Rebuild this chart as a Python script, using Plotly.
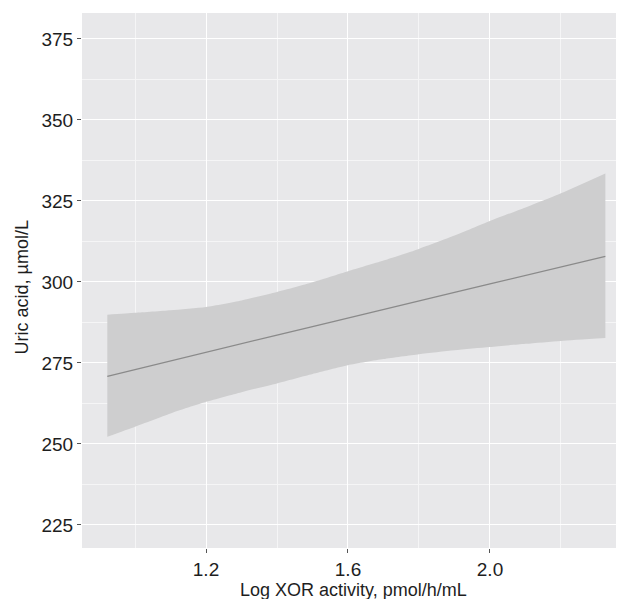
import plotly.graph_objects as go

# Data
x_vals = [0.922, 1.0, 1.1, 1.2, 1.3, 1.4, 1.5, 1.6, 1.7, 1.8, 1.9, 2.0, 2.1, 2.2, 2.325]
fit = [270.9, 273.0, 275.6, 278.3, 281.0, 283.6, 286.2, 288.9, 291.5, 294.1, 296.8, 299.4, 302.0, 304.7, 307.9]
upper = [289.9, 290.5, 291.3, 292.3, 294.3, 296.9, 299.9, 303.3, 306.6, 310.2, 314.3, 318.8, 323.0, 327.4, 333.5]
lower = [252.2, 255.3, 259.4, 263.0, 266.0, 268.7, 271.6, 274.3, 276.2, 277.7, 278.9, 279.9, 280.9, 281.8, 282.7]

x_ticks = [1.2, 1.6, 2.0]
x_tick_text = ["1.2", "1.6", "2.0"]
y_ticks = [225, 250, 275, 300, 325, 350, 375]
x_title = "Log XOR activity, pmol/h/mL"
y_title = "Uric acid, µmol/L"

fig = go.Figure()
fig.add_trace(go.Scatter(x=x_vals, y=lower, mode="lines",
                         line=dict(width=0, shape="spline", smoothing=0.6),
                         hoverinfo="skip", showlegend=False))
fig.add_trace(go.Scatter(x=x_vals, y=upper, mode="lines", fill="tonexty",
                         fillcolor="#CECECF",
                         line=dict(width=0, shape="spline", smoothing=0.6),
                         hoverinfo="skip", showlegend=False))
fig.add_trace(go.Scatter(x=x_vals, y=fit, mode="lines",
                         line=dict(color="#8A8A8A", width=1.3), showlegend=False))

tick_font = dict(family="Liberation Sans, Arial, sans-serif", size=19, color="#1E1E1E")
title_font = dict(family="Liberation Sans, Arial, sans-serif", size=18, color="#1E1E1E")

# page body has an 8px margin, so the figure is sized 8px smaller
fig.update_layout(
    width=616, height=591,
    margin=dict(l=74, r=0, t=5, b=51, autoexpand=False),
    paper_bgcolor="white", plot_bgcolor="#E8E8EA",
    font=tick_font,
)
fig.update_xaxes(
    range=[0.8507, 2.3775], tickvals=x_ticks, ticktext=x_tick_text,
    showgrid=True, gridcolor="white", gridwidth=1.4,
    minor=dict(tickvals=[1.0, 1.4, 1.8, 2.2], showgrid=True, gridcolor="#F5F5F6", gridwidth=0.7, ticks=""),
    ticks="outside", ticklen=4, tickcolor="#555555", tickwidth=1,
    zeroline=False, showline=False, automargin=False, tickfont=tick_font,
)
fig.update_yaxes(
    range=[217.9, 383.0], tickvals=y_ticks,
    showgrid=True, gridcolor="white", gridwidth=1.4,
    minor=dict(tickvals=[237.5, 262.5, 287.5, 312.5, 337.5, 362.5], showgrid=True, gridcolor="#F5F5F6", gridwidth=0.7, ticks=""),
    ticks="outside", ticklen=4, tickcolor="#555555", tickwidth=1,
    zeroline=False, showline=False, automargin=False, tickfont=tick_font,
)
fig.add_annotation(text=x_title, xref="paper", yref="paper", x=0.5, y=0,
                   xanchor="center", yanchor="middle", yshift=-42,
                   showarrow=False, font=title_font)
fig.add_annotation(text=y_title, xref="paper", yref="paper", x=0, y=0.487,
                   xanchor="center", yanchor="middle", xshift=-60, textangle=-90,
                   showarrow=False, font=title_font)

fig.write_html("out.html")
